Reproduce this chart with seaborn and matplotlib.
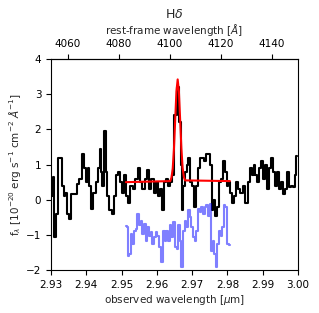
import numpy as np
import pandas as pd
import matplotlib
matplotlib.use("Agg")
import matplotlib.pyplot as plt
import seaborn as sns

# ─── Data ────────────────────────────────────────────────────────────────────
one_plus_z = 7.2285

obs_wave = [2.9302, 2.9307, 2.9311, 2.9316, 2.9323, 2.9330, 2.9333, 2.9338, 2.9342, 2.9349,
            2.9354, 2.9358, 2.9365, 2.9373, 2.9377, 2.9384, 2.9392, 2.9396, 2.9401, 2.9406,
            2.9410, 2.9415, 2.9425, 2.9431, 2.9436, 2.9439, 2.9443, 2.9448, 2.9453, 2.9458,
            2.9462, 2.9469, 2.9476, 2.9481, 2.9488, 2.9493, 2.9498, 2.9503, 2.9509, 2.9516,
            2.9522, 2.9528, 2.9535, 2.9542, 2.9549, 2.9554, 2.9561, 2.9571, 2.9575, 2.9580,
            2.9588, 2.9594, 2.9601, 2.9607, 2.9613, 2.9618, 2.9623, 2.9627, 2.9635, 2.9642,
            2.9646, 2.9651, 2.9656, 2.9660, 2.9665, 2.9670, 2.9673, 2.9676, 2.9682, 2.9687,
            2.9692, 2.9698, 2.9703, 2.9708, 2.9714, 2.9720, 2.9725, 2.9731, 2.9738, 2.9743,
            2.9748, 2.9752, 2.9758, 2.9762, 2.9767, 2.9772, 2.9778, 2.9785, 2.9791, 2.9795,
            2.9800, 2.9805, 2.9811, 2.9816, 2.9823, 2.9827, 2.9833, 2.9840, 2.9846, 2.9854,
            2.9860, 2.9866, 2.9873, 2.9877, 2.9882, 2.9888, 2.9893, 2.9899, 2.9903, 2.9908,
            2.9915, 2.9920, 2.9926, 2.9931, 2.9937, 2.9942, 2.9948, 2.9955, 2.9960, 2.9967,
            2.9973, 2.9978, 2.9984, 2.9989, 2.9993, 2.9997]
flux = [0.10, 0.65, -1.05, -0.40, 1.20, 1.20, 0.40, 0.10, 0.20, -0.40,
        -0.55, 0.15, 0.15, 0.15, 0.45, 0.60, 1.30, 0.90, 0.50, 0.90,
        0.40, -0.25, 0.20, 0.50, 0.90, 1.45, 0.80, 0.40, 1.95, 0.80,
        0.10, -0.30, -0.40, 0.10, 0.70, 0.80, 0.50, 0.20, 0.70, 0.10,
        -0.10, 0.40, 0.30, 0.60, 0.90, 0.50, 0.30, 0.60, 0.85, 0.30,
        0.60, 0.20, 0.50, 0.10, 0.30, -0.30, 0.50, 0.60, 0.40, 0.50,
        0.70, 2.40, 2.40, 3.20, 2.20, 1.00, -0.30, 0.40, 0.80, 1.00,
        1.20, 0.50, 0.40, -0.20, 0.40, 0.90, 1.20, 1.20, 1.10, 1.30,
        1.30, 1.00, -0.30, 0.00, -0.45, -0.20, 0.50, 0.60, 1.10, 0.80,
        0.40, 0.50, 0.20, -0.10, 0.10, 0.50, 0.30, 0.20, 0.40, -0.10,
        0.50, 0.90, 0.70, 1.00, 0.70, 0.50, 0.90, 1.10, 0.60, 1.00,
        0.30, 0.90, 1.20, 0.80, 0.40, 0.80, 0.30, 0.50, 0.15, 0.30,
        0.80, 0.35, 0.40, 0.35, 0.70, 1.25]

model_wave = [2.9512, 2.9638, 2.96415, 2.9645, 2.96485, 2.9652, 2.96555, 2.9659,
              2.96625, 2.9666, 2.96695, 2.9673, 2.96765, 2.9680, 2.9807]
model_flux = [0.50, 0.53, 0.63, 0.89, 1.45, 2.27, 3.08, 3.42,
              3.08, 2.28, 1.47, 0.91, 0.65, 0.55, 0.53]

resid_wave = [2.9512, 2.9517, 2.9520, 2.9524, 2.9528, 2.9533, 2.9538, 2.9542, 2.9547, 2.9552,
              2.9557, 2.9561, 2.9566, 2.9571, 2.9575, 2.9580, 2.9585, 2.9590, 2.9594, 2.9599,
              2.9604, 2.9608, 2.9615, 2.9620, 2.9625, 2.9629, 2.9635, 2.9639, 2.9644, 2.9649,
              2.9654, 2.9658, 2.9662, 2.9667, 2.9672, 2.9676, 2.9681, 2.9686, 2.9691, 2.9695,
              2.9700, 2.9705, 2.9709, 2.9714, 2.9719, 2.9724, 2.9728, 2.9733, 2.9738, 2.9742,
              2.9747, 2.9752, 2.9756, 2.9760, 2.9764, 2.9769, 2.9774, 2.9778, 2.9783, 2.9788,
              2.9792, 2.9797, 2.9802, 2.9807]
resid_flux = [-0.76, -0.78, -1.60, -1.55, -0.97, -1.25, -0.88, -0.83, -0.40, -0.73,
              -0.60, -0.97, -0.69, -1.16, -0.78, -1.02, -0.92, -1.26, -1.07, -0.92,
              -1.02, -1.35, -1.78, -0.88, -1.16, -0.88, -1.16, -0.73, -1.07, -0.64,
              -1.35, -1.40, -0.73, -1.16, -1.92, -0.88, -0.60, -0.78, -0.30, -0.50,
              -0.78, -1.07, -1.16, -0.88, -0.26, -0.35, -0.21, -0.40, -0.21, -0.16,
              -0.45, -0.11, -1.45, -1.16, -1.54, -1.92, -1.26, -0.88, -1.02, -0.78,
              -0.16, -0.21, -1.26, -1.28]

spec = pd.DataFrame({"wave": obs_wave, "flux": flux})
model = pd.DataFrame({"wave": model_wave, "flux": model_flux})
resid = pd.DataFrame({"wave": resid_wave, "flux": resid_flux})

# ─── Plot ────────────────────────────────────────────────────────────────────
sns.set_style("ticks")
plt.rcParams.update({
    "font.family": "DejaVu Sans",
    "font.size": 7.5,
    "xtick.labelsize": 7.5,
    "ytick.labelsize": 7.5,
    "axes.labelsize": 7.5,
    "axes.edgecolor": "black",
    "xtick.color": "black",
    "ytick.color": "black",
    "xtick.major.size": 3.5,
    "ytick.major.size": 3.5,
})

fig = plt.figure(figsize=(3.19, 3.13), dpi=100)
ax = fig.add_axes([0.160, 0.137, 0.774, 0.6745])

sns.lineplot(data=spec, x="wave", y="flux", ax=ax, color="black", lw=1.5,
             drawstyle="steps-mid", estimator=None, sort=False)
sns.lineplot(data=resid, x="wave", y="flux", ax=ax, color="blue", alpha=0.5, lw=1.5,
             drawstyle="steps-mid", estimator=None, sort=False)
sns.lineplot(data=model, x="wave", y="flux", ax=ax, color="red", lw=1.5,
             estimator=None, sort=False)

ax.set_xlim(2.93, 3.00)
ax.set_ylim(-2, 4)
ax.set_xticks([2.93, 2.94, 2.95, 2.96, 2.97, 2.98, 2.99, 3.00])
ax.set_yticks([-2, -1, 0, 1, 2, 3, 4])
ax.set_xlabel(r"observed wavelength [$\mu$m]", labelpad=2)
ax.set_ylabel(r"f$_\lambda$ [10$^{-20}$ erg s$^{-1}$ cm$^{-2}$ $\AA^{-1}$]", labelpad=2)
for s in ax.spines.values():
    s.set_linewidth(0.8)

top = ax.secondary_xaxis("top", functions=(lambda w: w * 1e4 / one_plus_z,
                                           lambda r: r * one_plus_z / 1e4))
top.set_xticks([4060, 4080, 4100, 4120, 4140])
top.set_xlabel(r"rest-frame wavelength [$\AA$]", labelpad=4)
# fixed y so the title sits above the secondary axis label
ax.set_title(r"H$\delta$", fontsize=9, y=1.192, pad=0)

fig.savefig("out.png", dpi=100)
